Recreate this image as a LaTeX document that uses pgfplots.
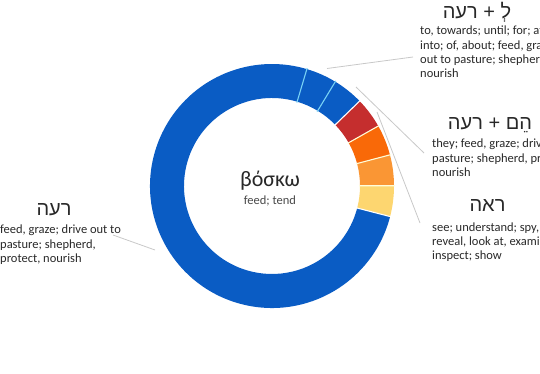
\documentclass[border=0pt]{standalone}
\usepackage{pgfplots}
\pgfplotsset{compat=1.18}
\usepackage{pgfplotstable}
\usetikzlibrary{calc}
\usepackage{fontspec}
\setmainfont{Carlito}
\newfontfamily\hebfont[Script=Hebrew]{Liberation Sans}
\TeXXeTstate=1
\definecolor{cblue}{RGB}{10,92,196}
\definecolor{cred}{RGB}{197,46,46}
\definecolor{cdorange}{RGB}{249,105,8}
\definecolor{corange}{RGB}{250,150,52}
\definecolor{cyellow}{RGB}{253,214,112}
\definecolor{csep}{RGB}{120,210,245}
\definecolor{cline}{RGB}{200,200,200}
\definecolor{ctext}{RGB}{40,40,40}
\pgfplotstableread{
share
4.07
4.07
4.07
4.07
4.07
4.07
75.58
}\donutdata
\newcommand\seg[3]{%
  \fill[#3] ($(axis cs:272,186)+(#1:122pt)$) arc[start angle=#1, end angle=#2, radius=122pt]
    -- ($(axis cs:272,186)+(#2:88pt)$) arc[start angle=#2, end angle=#1, radius=88pt] -- cycle;}
\newcommand\sep[2]{%
  \draw[#2, line width=1.1pt] ($(axis cs:272,186)+(#1:87pt)$) -- ($(axis cs:272,186)+(#1:123pt)$);}
\newcommand\cut[1]{\makebox[100pt][l]{#1}}
\begin{document}
\begin{tikzpicture}
\pgfmathsetmacro\aA{73.4}
\pgfplotstablegetelem{0}{share}\of\donutdata \pgfmathsetmacro\aB{\aA-3.6*\pgfplotsretval}
\pgfplotstablegetelem{1}{share}\of\donutdata \pgfmathsetmacro\aC{\aB-3.6*\pgfplotsretval}
\pgfplotstablegetelem{2}{share}\of\donutdata \pgfmathsetmacro\aD{\aC-3.6*\pgfplotsretval}
\pgfplotstablegetelem{3}{share}\of\donutdata \pgfmathsetmacro\aE{\aD-3.6*\pgfplotsretval}
\pgfplotstablegetelem{4}{share}\of\donutdata \pgfmathsetmacro\aF{\aE-3.6*\pgfplotsretval}
\pgfplotstablegetelem{5}{share}\of\donutdata \pgfmathsetmacro\aG{\aF-3.6*\pgfplotsretval}
\pgfplotstablegetelem{6}{share}\of\donutdata \pgfmathsetmacro\aH{\aG-3.6*\pgfplotsretval}
\begin{axis}[at={(0,0)}, anchor=south west, x=1pt, y=1pt,
  xmin=0, xmax=540, ymin=0, ymax=374, y dir=reverse,
  hide axis, clip=false]
\addplot[draw=none] coordinates {(0,0) (540,374)};
\seg{\aA}{\aB}{cblue}
\seg{\aB}{\aC}{cblue}
\seg{\aC}{\aD}{cred}
\seg{\aD}{\aE}{cdorange}
\seg{\aE}{\aF}{corange}
\seg{\aF}{\aG}{cyellow}
\seg{\aG}{\aH}{cblue}
\sep{\aA}{csep}
\sep{\aB}{csep}
\sep{\aC}{white}
\sep{\aD}{white!85!yellow}
\sep{\aE}{white!85!yellow}
\sep{\aF}{white!85!yellow}
\sep{\aG}{white}
% leader lines
\draw[cline, line width=0.8pt] (axis cs:327,68.5) -- (axis cs:413,57);
\draw[cline, line width=0.8pt] (axis cs:356,87) -- (axis cs:424,153);
\draw[cline, line width=0.8pt] (axis cs:377,112) -- (axis cs:420,223);
\draw[cline, line width=0.8pt] (axis cs:113,235) -- (axis cs:155,250);
% centre
\node[anchor=base, text=ctext, font=\fontsize{22}{22}\selectfont, inner sep=0] at (axis cs:270,186.5) {βόσκω};
\node[anchor=base, text=ctext!85!white, font=\fontsize{12.5}{14}\selectfont, inner sep=0] at (axis cs:270,204) {feed; tend};
\begin{scope}[every node/.style={anchor=base west, text=ctext, font=\fontsize{12.5}{14}\selectfont, inner sep=0}]
\node at (axis cs:420,35) {\cut{to, towards; until; for; at; against;}};
\node at (axis cs:420,49.5) {\cut{into; of, about; feed, graze; drive}};
\node at (axis cs:420,64) {\cut{out to pasture; shepherd, protect,}};
\node at (axis cs:420,78) {nourish};
\node at (axis cs:432,147.3) {\cut{they; feed, graze; drive out to}};
\node at (axis cs:432,162) {\cut{pasture; shepherd, protect,}};
\node at (axis cs:432,176) {nourish};
\node at (axis cs:432,231) {\cut{see; understand; spy, look;}};
\node at (axis cs:432,245) {\cut{reveal, look at, examine,}};
\node at (axis cs:432,259) {inspect; show};
\node at (axis cs:0,233.5) {feed, graze; drive out to};
\node at (axis cs:0,248) {pasture; shepherd,};
\node at (axis cs:0,262.5) {protect, nourish};
\end{scope}
\node[anchor=base, text=ctext, font=\hebfont\fontsize{20}{20}\selectfont, inner sep=0] at (axis cs:477,18.3) {\beginR לְ + רעה\endR};
\node[anchor=base, text=ctext, font=\hebfont\fontsize{20}{20}\selectfont, inner sep=0] at (axis cs:490,130) {\beginR הֵם + רעה\endR};
\node[anchor=base, text=ctext, font=\hebfont\fontsize{20}{20}\selectfont, inner sep=0] at (axis cs:487.5,211.7) {\beginR ראה\endR};
\node[anchor=base, text=ctext, font=\hebfont\fontsize{20}{20}\selectfont, inner sep=0] at (axis cs:54,215) {\beginR רעה\endR};
\end{axis}
\end{tikzpicture}
\end{document}
